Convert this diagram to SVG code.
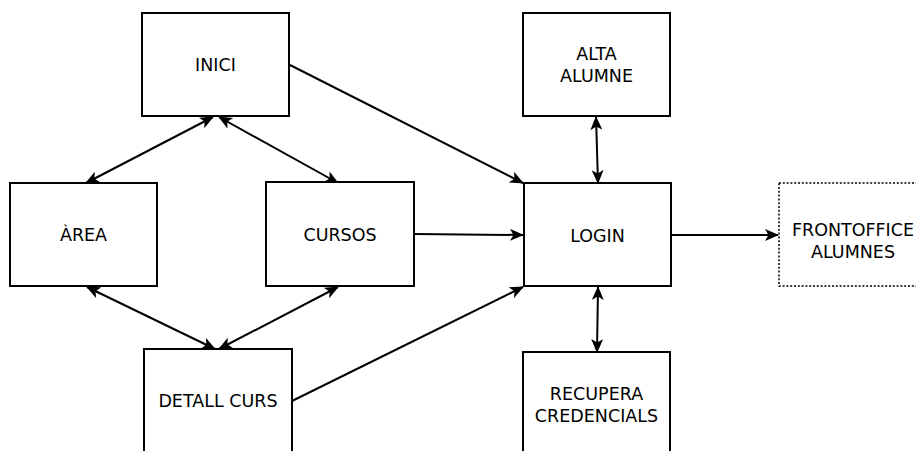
<svg xmlns="http://www.w3.org/2000/svg" width="916" height="451" viewBox="0 0 916 451">
<defs>
<style>
.box{fill:#fff;stroke:#000;stroke-width:2}
.dot{fill:#fff;stroke:#000;stroke-width:1.5;stroke-dasharray:2 1.8}
.lbl{font-family:"DejaVu Sans",sans-serif;font-size:17.5px;fill:#000;text-anchor:middle}
.ln{fill:none;stroke:#000;stroke-width:2}
</style>
<marker id="ah" viewBox="0 0 14 12" refX="13" refY="6" markerWidth="14" markerHeight="12" markerUnits="userSpaceOnUse" orient="auto-start-reverse">
<path d="M0,0 L14,6 L0,12 L3.5,6 Z" fill="#000"/>
</marker>
</defs>
<rect width="916" height="451" fill="#fff"/>
<g id="connectors">
<line class="ln" x1="213" y1="117" x2="86" y2="183" marker-start="url(#ah)" marker-end="url(#ah)"/>
<line class="ln" x1="219" y1="117" x2="338" y2="183" marker-start="url(#ah)" marker-end="url(#ah)"/>
<line class="ln" x1="87" y1="287" x2="215" y2="349" marker-start="url(#ah)" marker-end="url(#ah)"/>
<line class="ln" x1="338" y1="287" x2="219" y2="349" marker-start="url(#ah)" marker-end="url(#ah)"/>
<line class="ln" x1="290" y1="65" x2="523" y2="183" marker-end="url(#ah)"/>
<line class="ln" x1="414" y1="234" x2="523" y2="235" marker-end="url(#ah)"/>
<line class="ln" x1="292" y1="401" x2="523" y2="287" marker-end="url(#ah)"/>
<line class="ln" x1="596" y1="117" x2="598" y2="183" marker-start="url(#ah)" marker-end="url(#ah)"/>
<line class="ln" x1="598" y1="287" x2="597" y2="352" marker-start="url(#ah)" marker-end="url(#ah)"/>
<line class="ln" x1="672" y1="235" x2="778" y2="235" marker-end="url(#ah)"/>
</g>
<g id="inici"><rect class="box" x="142" y="13" width="147" height="103"/><text class="lbl" x="215.5" y="70.5">INICI</text></g>
<g id="area"><rect class="box" x="10" y="183" width="147" height="103"/><text class="lbl" x="83.5" y="240.5">ÀREA</text></g>
<g id="cursos"><rect class="box" x="266" y="182" width="148" height="104"/><text class="lbl" x="340" y="240.5">CURSOS</text></g>
<g id="detall"><rect class="box" x="144" y="349" width="148" height="110"/><text class="lbl" x="218" y="406.5">DETALL CURS</text></g>
<g id="alta"><rect class="box" x="523" y="13" width="147" height="103"/><text class="lbl" x="596.5" y="60">ALTA</text><text class="lbl" x="596.5" y="81.5">ALUMNE</text></g>
<g id="login"><rect class="box" x="524" y="183" width="147" height="103"/><text class="lbl" x="597.5" y="241.5">LOGIN</text></g>
<g id="recupera"><rect class="box" x="523" y="352" width="147" height="110"/><text class="lbl" x="596.5" y="400">RECUPERA</text><text class="lbl" x="596.5" y="421.5">CREDENCIALS</text></g>
<g id="frontoffice"><rect class="dot" x="779" y="183" width="147" height="103"/><text class="lbl" x="853" y="236">FRONTOFFICE</text><text class="lbl" x="853" y="257.5">ALUMNES</text></g>
</svg>
